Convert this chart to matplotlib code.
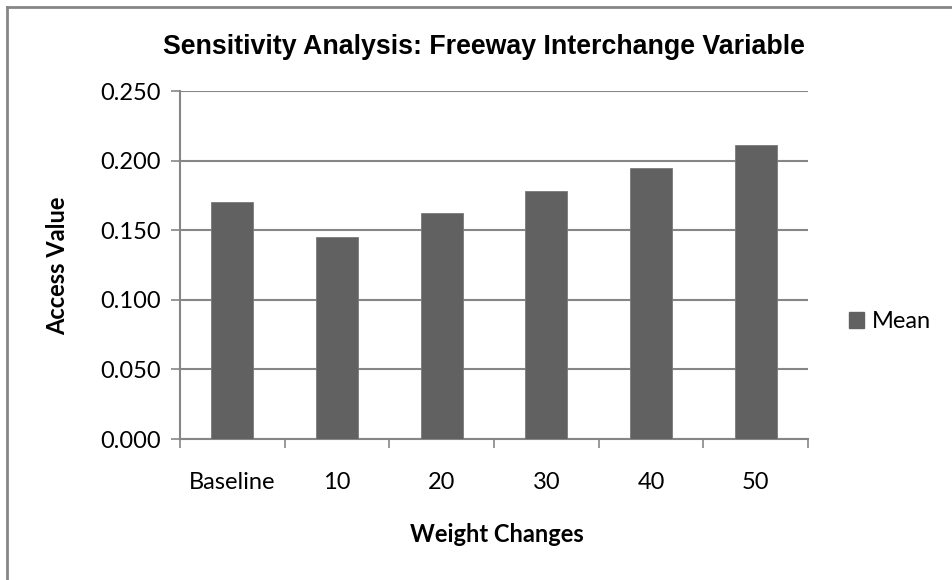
import matplotlib
matplotlib.use("Agg")
import matplotlib.pyplot as plt
from matplotlib.patches import Rectangle
from matplotlib.lines import Line2D
import numpy as np

categories = ["Baseline", "10", "20", "30", "40", "50"]
mean_values = [0.170, 0.145, 0.162, 0.178, 0.195, 0.211]
yticks = [0.000, 0.050, 0.100, 0.150, 0.200, 0.250]
ytick_labels = ["0.000", "0.050", "0.100", "0.150", "0.200", "0.250"]

title = "Sensitivity Analysis: Freeway Interchange Variable"
xlabel = "Weight Changes"
ylabel = "Access Value"
series_name = "Mean"

grid_c = "#868686"
bar_c = "#616161"
txt_font = ["Lato", "DejaVu Sans"]
fs = 17

fig = plt.figure(figsize=(9.53, 5.80), dpi=100)
ax = fig.add_axes([180/953, 1-439/580, (808-180)/953, (439-91)/580])

x = np.arange(len(categories))
ax.bar(x, mean_values, width=0.40, color=bar_c, edgecolor="#7a7a7a", linewidth=0.6, zorder=3, label=series_name)
ax.set_xlim(-0.5, len(categories)-0.5)
ax.set_ylim(0, 0.25)
ax.set_yticks(yticks)
ax.set_yticklabels(ytick_labels, fontfamily=txt_font, fontsize=fs)
ax.yaxis.grid(True, color=grid_c, linewidth=1.5, zorder=0)
ax.set_axisbelow(True)

ax.set_xticks(np.arange(-0.5, len(categories), 1.0))
ax.set_xticklabels([])
ax.set_xticks(x, minor=True)
ax.set_xticklabels(categories, minor=True, fontfamily=txt_font, fontsize=fs)
ax.tick_params(axis="x", which="major", length=6.5, color=grid_c, width=1.2, direction="out")
ax.tick_params(axis="x", which="minor", length=0, pad=24)
ax.tick_params(axis="y", length=6.5, color=grid_c, width=1.2, pad=7)

for s in ["top", "right"]:
    ax.spines[s].set_visible(False)
for s in ["left", "bottom"]:
    ax.spines[s].set_color(grid_c)
    ax.spines[s].set_linewidth(1.5)

fig.text(484/953, 1-47/580, title, ha="center", va="center", fontsize=19.3,
         fontweight="bold", fontfamily=["Liberation Sans", "DejaVu Sans"])
fig.text(497/953, 1-535/580, xlabel, ha="center", va="center", fontsize=fs,
         fontweight="bold", fontfamily=txt_font)
fig.text(58/953, 1-266/580, ylabel, ha="center", va="center", rotation=90, fontsize=fs,
         fontweight="bold", fontfamily=txt_font)

leg = ax.legend(handles=[Rectangle((0, 0), 1, 1, color=bar_c)], labels=[series_name],
                loc="center left", bbox_to_anchor=(849/953, 1-322/580), bbox_transform=fig.transFigure,
                frameon=False, prop={"family": txt_font, "size": fs},
                handlelength=0.64, handleheight=0.64, handletextpad=0.34, borderaxespad=0,
                borderpad=0)

# figure frame (left and top edges)
fig.add_artist(Line2D([7/953, 7/953], [0, 1-7/580], transform=fig.transFigure, color=grid_c, linewidth=2))
fig.add_artist(Line2D([7/953, 1], [1-7/580, 1-7/580], transform=fig.transFigure, color=grid_c, linewidth=2))

fig.savefig("out.png", dpi=100)
